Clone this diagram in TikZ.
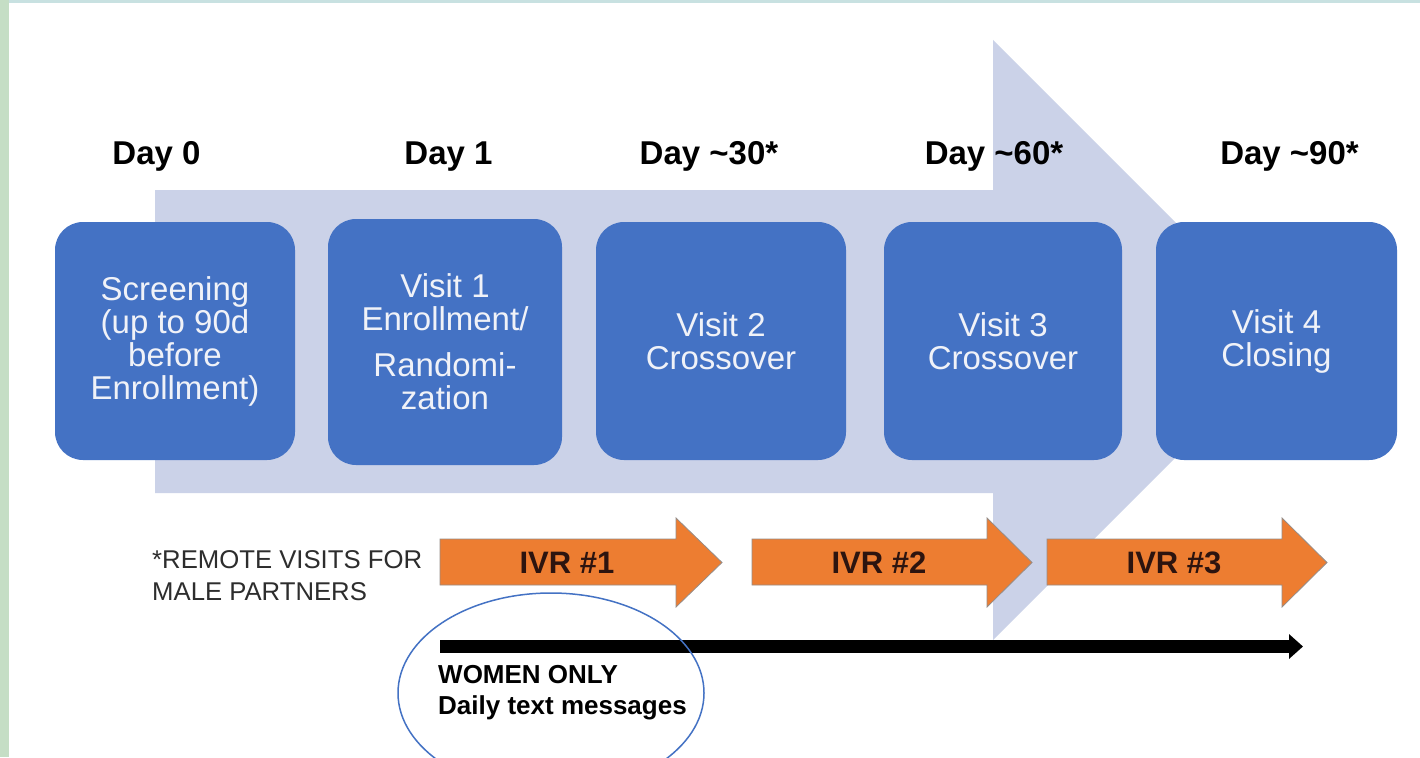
\documentclass[tikz,border=0pt]{standalone}
\usepackage{fontspec}
\setmainfont{Liberation Sans}
\usetikzlibrary{arrows.meta}
\definecolor{boxblue}{HTML}{4472C4}
\definecolor{bigarrow}{RGB}{203,210,232}
\definecolor{ivrorange}{HTML}{ED7D31}
\definecolor{ivredge}{RGB}{150,140,135}
\definecolor{ivrtext}{RGB}{45,20,15}
\definecolor{stripgreen}{RGB}{197,222,197}
\definecolor{striptop}{RGB}{200,225,225}
\definecolor{notegray}{RGB}{45,45,45}
\definecolor{boxtext}{RGB}{240,242,248}
\newcommand\ivrshape[3]{%
  \filldraw[ivrshapestyle] (#1,539) -- (#2,539) -- (#2,518) -- (#3,562.5) -- (#2,607) -- (#2,585) -- (#1,585) -- cycle;}
\begin{document}
\begin{tikzpicture}[x=1pt,y=-1pt,
  visitbox/.style={fill=boxblue, rounded corners=28pt, inner sep=0pt, text=boxtext,
    align=center, font=\fontsize{33}{33}\selectfont},
  daylabel/.style={anchor=base, inner sep=0pt, font=\fontsize{33}{38}\selectfont\bfseries},
  ivrshapestyle/.style={fill=ivrorange, draw=ivredge, line width=0.8pt},
  ivrlabel/.style={inner sep=0pt, text=ivrtext, font=\fontsize{31}{31}\selectfont\bfseries},
  notetext/.style={inner sep=0pt, anchor=west, align=left, text=notegray, font=\fontsize{25.7}{32}\selectfont},
  womentext/.style={inner sep=0pt, anchor=west, align=left, text=black, font=\fontsize{26}{31}\selectfont\bfseries}
]
\useasboundingbox (0,0) rectangle (1420,757);
\clip (0,0) rectangle (1420,757);
\fill[white] (0,0) rectangle (1420,757);
\fill[stripgreen] (0,0) rectangle (9,757);
\fill[striptop] (9,0) rectangle (1420,3);

% big background arrow
\fill[bigarrow] (155,190) -- (993,190) -- (993,40) -- (1293,340) -- (993,640) -- (993,493) -- (155,493) -- cycle;

% day labels
\node[daylabel] (d0) at (156.5,164) {Day 0};
\node[daylabel] (d1) at (448.5,164) {Day 1};
\node[daylabel] (d30) at (709,164) {Day \textasciitilde30*};
\node[daylabel] (d60) at (994,164) {Day \textasciitilde60*};
\node[daylabel] (d90) at (1289.5,164) {Day \textasciitilde90*};

% visit boxes
\node[visitbox, minimum width=240pt, minimum height=238pt] (scr) at (175,341)
  {Screening\\(up to 90d\\before\\Enrollment)};
\node[visitbox, minimum width=234pt, minimum height=246pt] (v1) at (445,342)
  {Visit 1\\Enrollment/\\[13pt]Randomi-\\zation};
\node[visitbox, minimum width=250pt, minimum height=238pt] (v2) at (721,341)
  {Visit 2\\Crossover};
\node[visitbox, minimum width=238pt, minimum height=238pt] (v3) at (1003,341)
  {Visit 3\\Crossover};
\node[visitbox, minimum width=241pt, minimum height=238pt] (v4) at (1276.5,341)
  {Visit 4\\Closing};

% IVR arrows
\ivrshape{440}{676}{722}
\ivrshape{752}{987}{1032}
\ivrshape{1047}{1282}{1327}
\node[ivrlabel] (ivr1) at (567,562.5) {IVR \#1};
\node[ivrlabel] (ivr2) at (879,562.5) {IVR \#2};
\node[ivrlabel] (ivr3) at (1174,562.5) {IVR \#3};

% note
\node[notetext] (note) at (152,576) {*REMOTE VISITS FOR\\MALE PARTNERS};

% black timeline arrow
\coordinate (ts) at (440,646.5);
\coordinate (te) at (1303,646.5);
\draw[line width=13pt, -{Triangle[length=14pt 0 0, width=24pt 0]}] (ts) -- (te);

\node[womentext] (women) at (438,693) {WOMEN ONLY\\Daily text messages};

% ellipse
\draw[boxblue, line width=1.5pt] (551,693) ellipse [x radius=153, y radius=100];
\end{tikzpicture}
\end{document}
